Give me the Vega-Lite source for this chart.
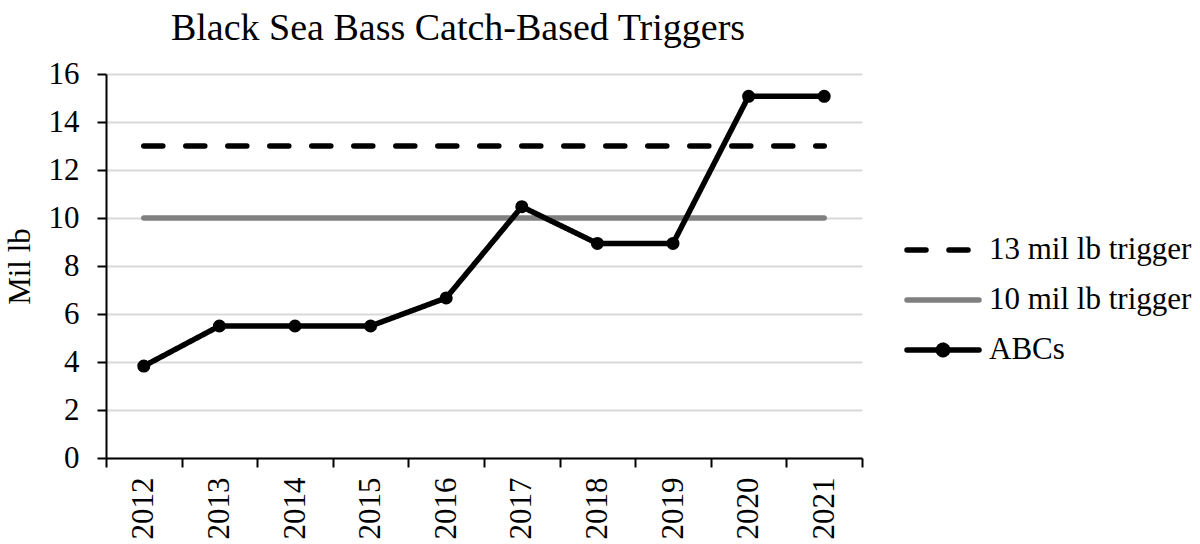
{
  "$schema": "https://vega.github.io/schema/vega-lite/v6.json",
  "autosize": "none",
  "width": 756,
  "height": 384,
  "padding": {"left": 106, "top": 74, "right": 338, "bottom": 86},
  "background": "white",
  "config": {
    "font": "Liberation Serif",
    "view": {"stroke": null},
    "axis": {"labelFont": "Liberation Serif", "titleFont": "Liberation Serif", "labelColor": "black", "titleColor": "black"}
  },
  "title": {
    "text": "Black Sea Bass Catch-Based Triggers",
    "font": "Liberation Serif",
    "fontSize": 38,
    "fontWeight": "normal",
    "color": "black",
    "anchor": "middle",
    "frame": "group",
    "dx": -26,
    "offset": 10
  },
  "data": {
    "values": [
      {"year": "2012", "series": "13 mil lb trigger", "value": 13},
      {"year": "2013", "series": "13 mil lb trigger", "value": 13},
      {"year": "2014", "series": "13 mil lb trigger", "value": 13},
      {"year": "2015", "series": "13 mil lb trigger", "value": 13},
      {"year": "2016", "series": "13 mil lb trigger", "value": 13},
      {"year": "2017", "series": "13 mil lb trigger", "value": 13},
      {"year": "2018", "series": "13 mil lb trigger", "value": 13},
      {"year": "2019", "series": "13 mil lb trigger", "value": 13},
      {"year": "2020", "series": "13 mil lb trigger", "value": 13},
      {"year": "2021", "series": "13 mil lb trigger", "value": 13},
      {"year": "2012", "series": "10 mil lb trigger", "value": 10},
      {"year": "2013", "series": "10 mil lb trigger", "value": 10},
      {"year": "2014", "series": "10 mil lb trigger", "value": 10},
      {"year": "2015", "series": "10 mil lb trigger", "value": 10},
      {"year": "2016", "series": "10 mil lb trigger", "value": 10},
      {"year": "2017", "series": "10 mil lb trigger", "value": 10},
      {"year": "2018", "series": "10 mil lb trigger", "value": 10},
      {"year": "2019", "series": "10 mil lb trigger", "value": 10},
      {"year": "2020", "series": "10 mil lb trigger", "value": 10},
      {"year": "2021", "series": "10 mil lb trigger", "value": 10},
      {"year": "2012", "series": "ABCs", "value": 3.83},
      {"year": "2013", "series": "ABCs", "value": 5.5},
      {"year": "2014", "series": "ABCs", "value": 5.5},
      {"year": "2015", "series": "ABCs", "value": 5.5},
      {"year": "2016", "series": "ABCs", "value": 6.67},
      {"year": "2017", "series": "ABCs", "value": 10.47},
      {"year": "2018", "series": "ABCs", "value": 8.94},
      {"year": "2019", "series": "ABCs", "value": 8.94},
      {"year": "2020", "series": "ABCs", "value": 15.07},
      {"year": "2021", "series": "ABCs", "value": 15.07}
    ]
  },
  "encoding": {
    "x": {
      "field": "year",
      "type": "ordinal",
      "scale": {"type": "band", "paddingInner": 0, "paddingOuter": 0},
      "axis": {
        "title": null,
        "tickBand": "extent",
        "labelAngle": -90,
        "labelAlign": "right",
        "labelBaseline": "middle",
        "labelFontSize": 31,
        "labelPadding": 10,
        "tickSize": 9,
        "tickWidth": 2,
        "tickColor": "black",
        "domainColor": "black",
        "domainWidth": 2,
        "grid": false
      }
    },
    "y": {
      "field": "value",
      "type": "quantitative",
      "scale": {"domain": [0, 16], "nice": false},
      "axis": {
        "title": "Mil lb",
        "titleFontSize": 31,
        "titleFontWeight": "normal",
        "titlePadding": 12,
        "values": [0, 2, 4, 6, 8, 10, 12, 14, 16],
        "labelFontSize": 31,
        "labelPadding": 18,
        "tickSize": 9,
        "tickWidth": 2,
        "tickColor": "black",
        "domainColor": "black",
        "domainWidth": 2,
        "grid": true,
        "gridColor": "#d9d9d9",
        "gridWidth": 2
      }
    },
    "color": {
      "field": "series",
      "type": "nominal",
      "scale": {
        "domain": ["13 mil lb trigger", "10 mil lb trigger", "ABCs"],
        "range": ["black", "#808080", "black"]
      },
      "legend": {
        "title": null,
        "orient": "none",
        "legendX": 798,
        "legendY": 151,
        "padding": 0,
        "symbolType": "stroke",
        "symbolSize": 5184,
        "symbolStrokeWidth": 5.5,
        "clipHeight": 50,
        "rowPadding": 0,
        "labelFont": "Liberation Serif",
        "labelFontSize": 31,
        "labelColor": "black",
        "labelOffset": 7,
        "labelLimit": 400,
        "encode": {
          "symbols": {
            "update": {
              "shape": [
                {"test": "datum.value === 'ABCs'", "value": "M-1,0L1,0M-0.13,0A0.13,0.13,0,1,1,0.13,0A0.13,0.13,0,1,1,-0.13,0Z"},
                {"value": "stroke"}
              ],
              "fill": [
                {"test": "datum.value === 'ABCs'", "value": "black"},
                {"value": "transparent"}
              ],
              "strokeCap": {"value": "round"}
            }
          }
        }
      }
    }
  },
  "layer": [
    {
      "mark": {"type": "line", "strokeWidth": 5.5, "strokeCap": "round"},
      "encoding": {
        "strokeDash": {
          "field": "series",
          "type": "nominal",
          "scale": {
            "domain": ["13 mil lb trigger", "10 mil lb trigger", "ABCs"],
            "range": [[19, 23], [1, 0], [1, 0]]
          }
        }
      }
    },
    {
      "transform": [{"filter": "datum.series === 'ABCs'"}],
      "mark": {"type": "point", "filled": true, "opacity": 1, "size": 170, "shape": "circle"},
      "encoding": {}
    }
  ]
}
